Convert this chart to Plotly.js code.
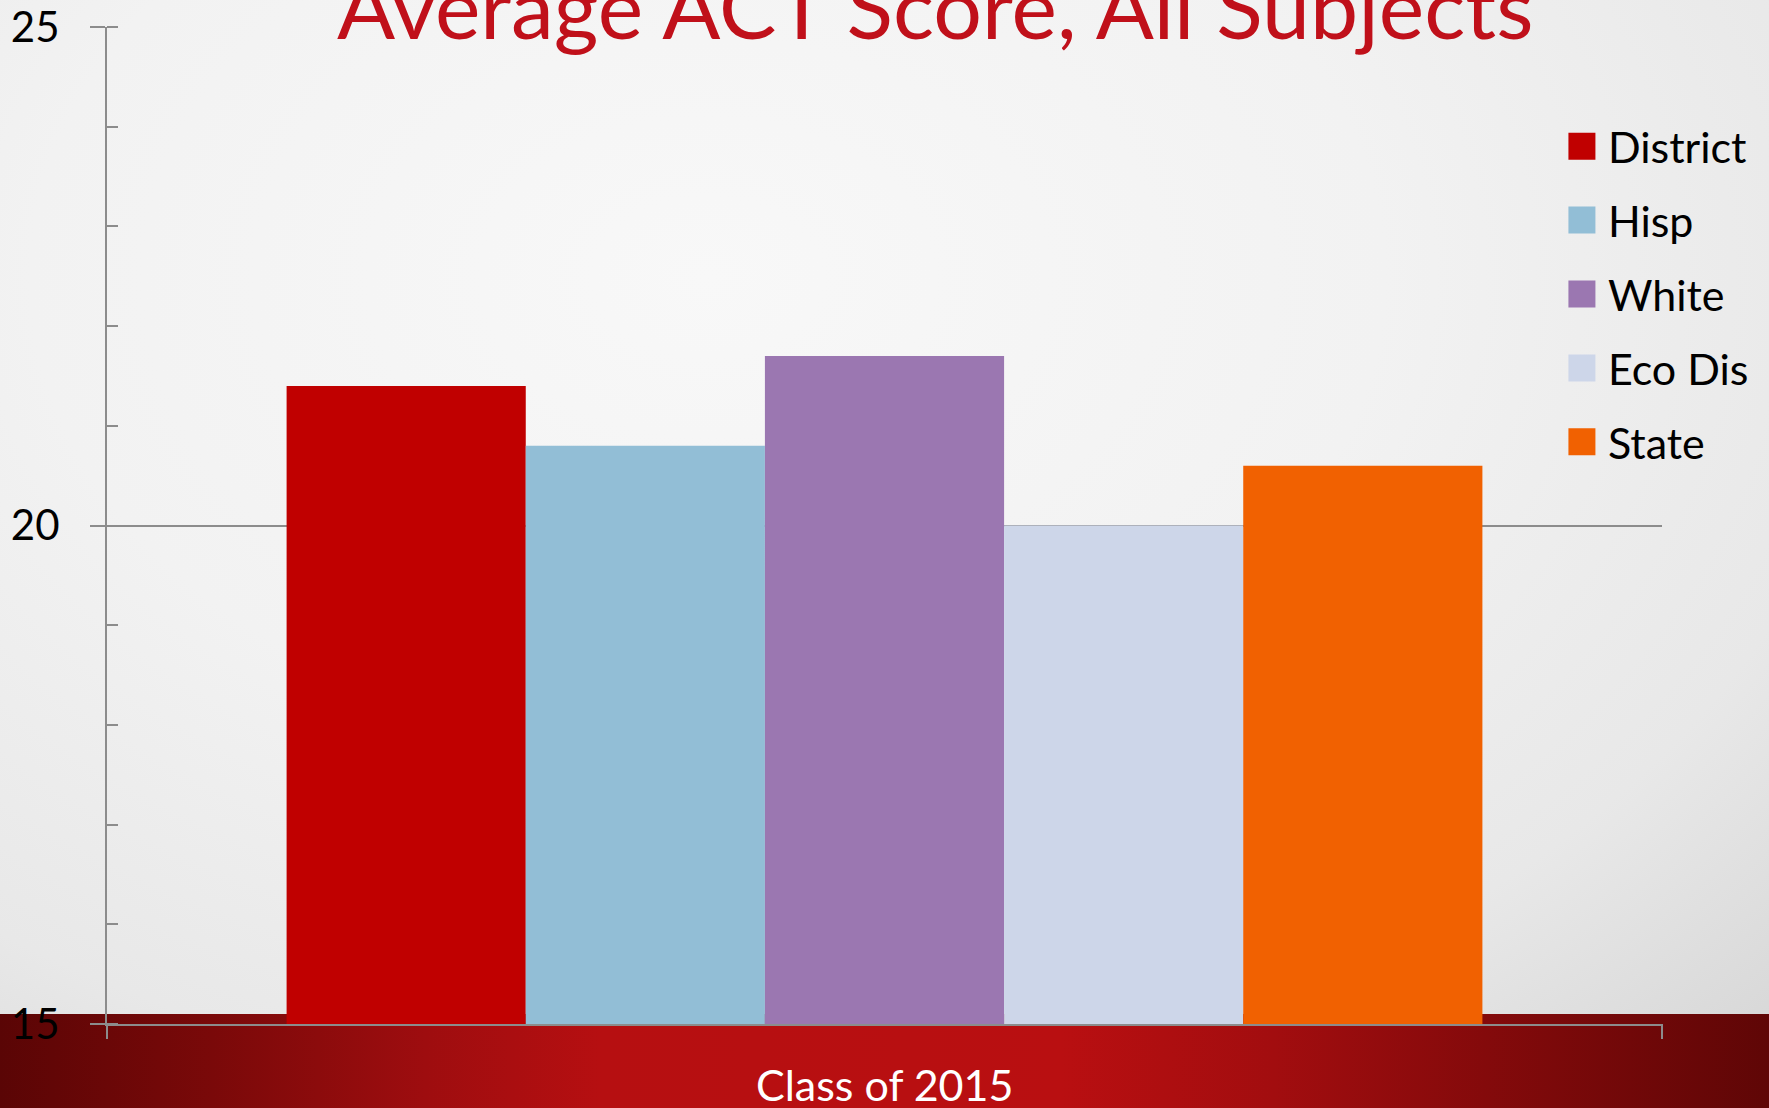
<!DOCTYPE html>
<html>
<head>
<meta charset="utf-8">
<script src="https://cdn.plot.ly/plotly-3.0.1.min.js"></script>
<style>
  html, body { margin: 0; padding: 0; width: 1769px; height: 1108px; overflow: hidden; }
  #bg { position: absolute; left: 0; top: 0; width: 1769px; height: 1108px;
        background: radial-gradient(ellipse 85% 95% at 40% 25%, #f8f8f8 0%, #f2f2f2 45%, #e8e8e8 78%, #d8d8d8 100%); }
  #band { position: absolute; left: 0; top: 1014px; width: 1769px; height: 94px;
        background: linear-gradient(to right, #5a0505 0%, #7a0909 12%, #9e0d0f 24%, #b60f11 34%, #b90f11 60%, #a20d0f 72%, #840a0b 84%, #5f0606 100%); }
  #chart { position: absolute; left: 0; top: 0; width: 1769px; height: 1108px; }
</style>
</head>
<body>
<div id="bg"></div>
<div id="band"></div>
<div id="chart"></div>
<script>
const category = ['Class of 2015'];
const seriesNames = ['District', 'Hisp', 'White', 'Eco Dis', 'State'];
const districtValues = [21.4];
const hispValues = [20.8];
const whiteValues = [21.7];
const ecoDisValues = [20.0];
const stateValues = [20.6];
const seriesColors = ['#c00000', '#92bed6', '#9b77b1', '#cdd6e9', '#f16101'];
const yTickValues = [15, 20, 25];
const yTickLabels = ['15', '20', '25'];
const titleText = 'Average ACT Score, All Subjects';

const allValues = [districtValues, hispValues, whiteValues, ecoDisValues, stateValues];

const traces = seriesNames.map((name, i) => ({
  type: 'bar',
  name: name,
  x: category,
  y: allValues[i],
  marker: { color: seriesColors[i], line: { width: 0 } },
  legendgroup: name,
  hoverinfo: 'name+y'
}));

const layout = {
  width: 1769,
  height: 1108,
  paper_bgcolor: 'rgba(0,0,0,0)',
  plot_bgcolor: 'rgba(0,0,0,0)',
  margin: { l: 107, r: 107, t: 27, b: 84, pad: 0 },
  font: { family: 'Lato, "Open Sans", sans-serif', color: '#000000' },
  barmode: 'group',
  bargap: 0.231,
  bargroupgap: 0,
  showlegend: true,
  legend: {
    x: 0.9395, xanchor: 'left', y: 0.915, yanchor: 'top',
    bgcolor: 'rgba(0,0,0,0)',
    font: { size: 43, color: '#000000', family: 'Lato, sans-serif' },
    tracegroupgap: 15,
    traceorder: 'grouped'
  },
  xaxis: {
    type: 'category',
    range: [-0.5, 0.5],
    showticklabels: false,
    showgrid: false,
    zeroline: false,
    showline: true,
    linecolor: '#8c8c8c',
    linewidth: 2,
    ticks: '',
    fixedrange: true
  },
  yaxis: {
    range: [15, 25],
    tickvals: yTickValues,
    ticktext: yTickLabels,
    showgrid: true,
    gridcolor: '#8c8c8c',
    gridwidth: 2,
    zeroline: false,
    showline: true,
    linecolor: '#8c8c8c',
    linewidth: 2,
    ticks: 'outside',
    ticklen: 15,
    tickwidth: 2,
    tickcolor: '#8c8c8c',
    ticklabelstandoff: 22,
    tickfont: { size: 42, color: '#000000', family: 'Lato, sans-serif' },
    minor: { dtick: 1, ticks: 'inside', ticklen: 11, tickwidth: 2, tickcolor: '#8c8c8c', showgrid: false },
    fixedrange: true
  },
  shapes: [
    { type: 'line', xref: 'paper', yref: 'paper', x0: 0, x1: 0, y0: 0, y1: -0.015, line: { color: '#8c8c8c', width: 2 } },
    { type: 'line', xref: 'paper', yref: 'paper', x0: 1, x1: 1, y0: 0, y1: -0.015, line: { color: '#8c8c8c', width: 2 } }
  ],
  annotations: [
    { text: titleText, xref: 'paper', yref: 'paper', x: 0.5325, y: 1.022, xanchor: 'center', yanchor: 'middle',
      showarrow: false, font: { size: 86, color: '#c0101a', family: 'Lato, sans-serif' } },
    { text: category[0], xref: 'paper', yref: 'paper', x: 0.4997, y: -0.061, xanchor: 'center', yanchor: 'middle',
      showarrow: false, font: { size: 43, color: '#ffffff', family: 'Lato, sans-serif' } }
  ]
};

Plotly.newPlot('chart', traces, layout, { displayModeBar: false, staticPlot: true }).then(function () {
  document.querySelectorAll('#chart .legend .legendpoints path').forEach(function (p) {
    p.setAttribute('d', 'M7.5,13.5H-19.5V-13.5H7.5Z');
  });
});
</script>
</body>
</html>
